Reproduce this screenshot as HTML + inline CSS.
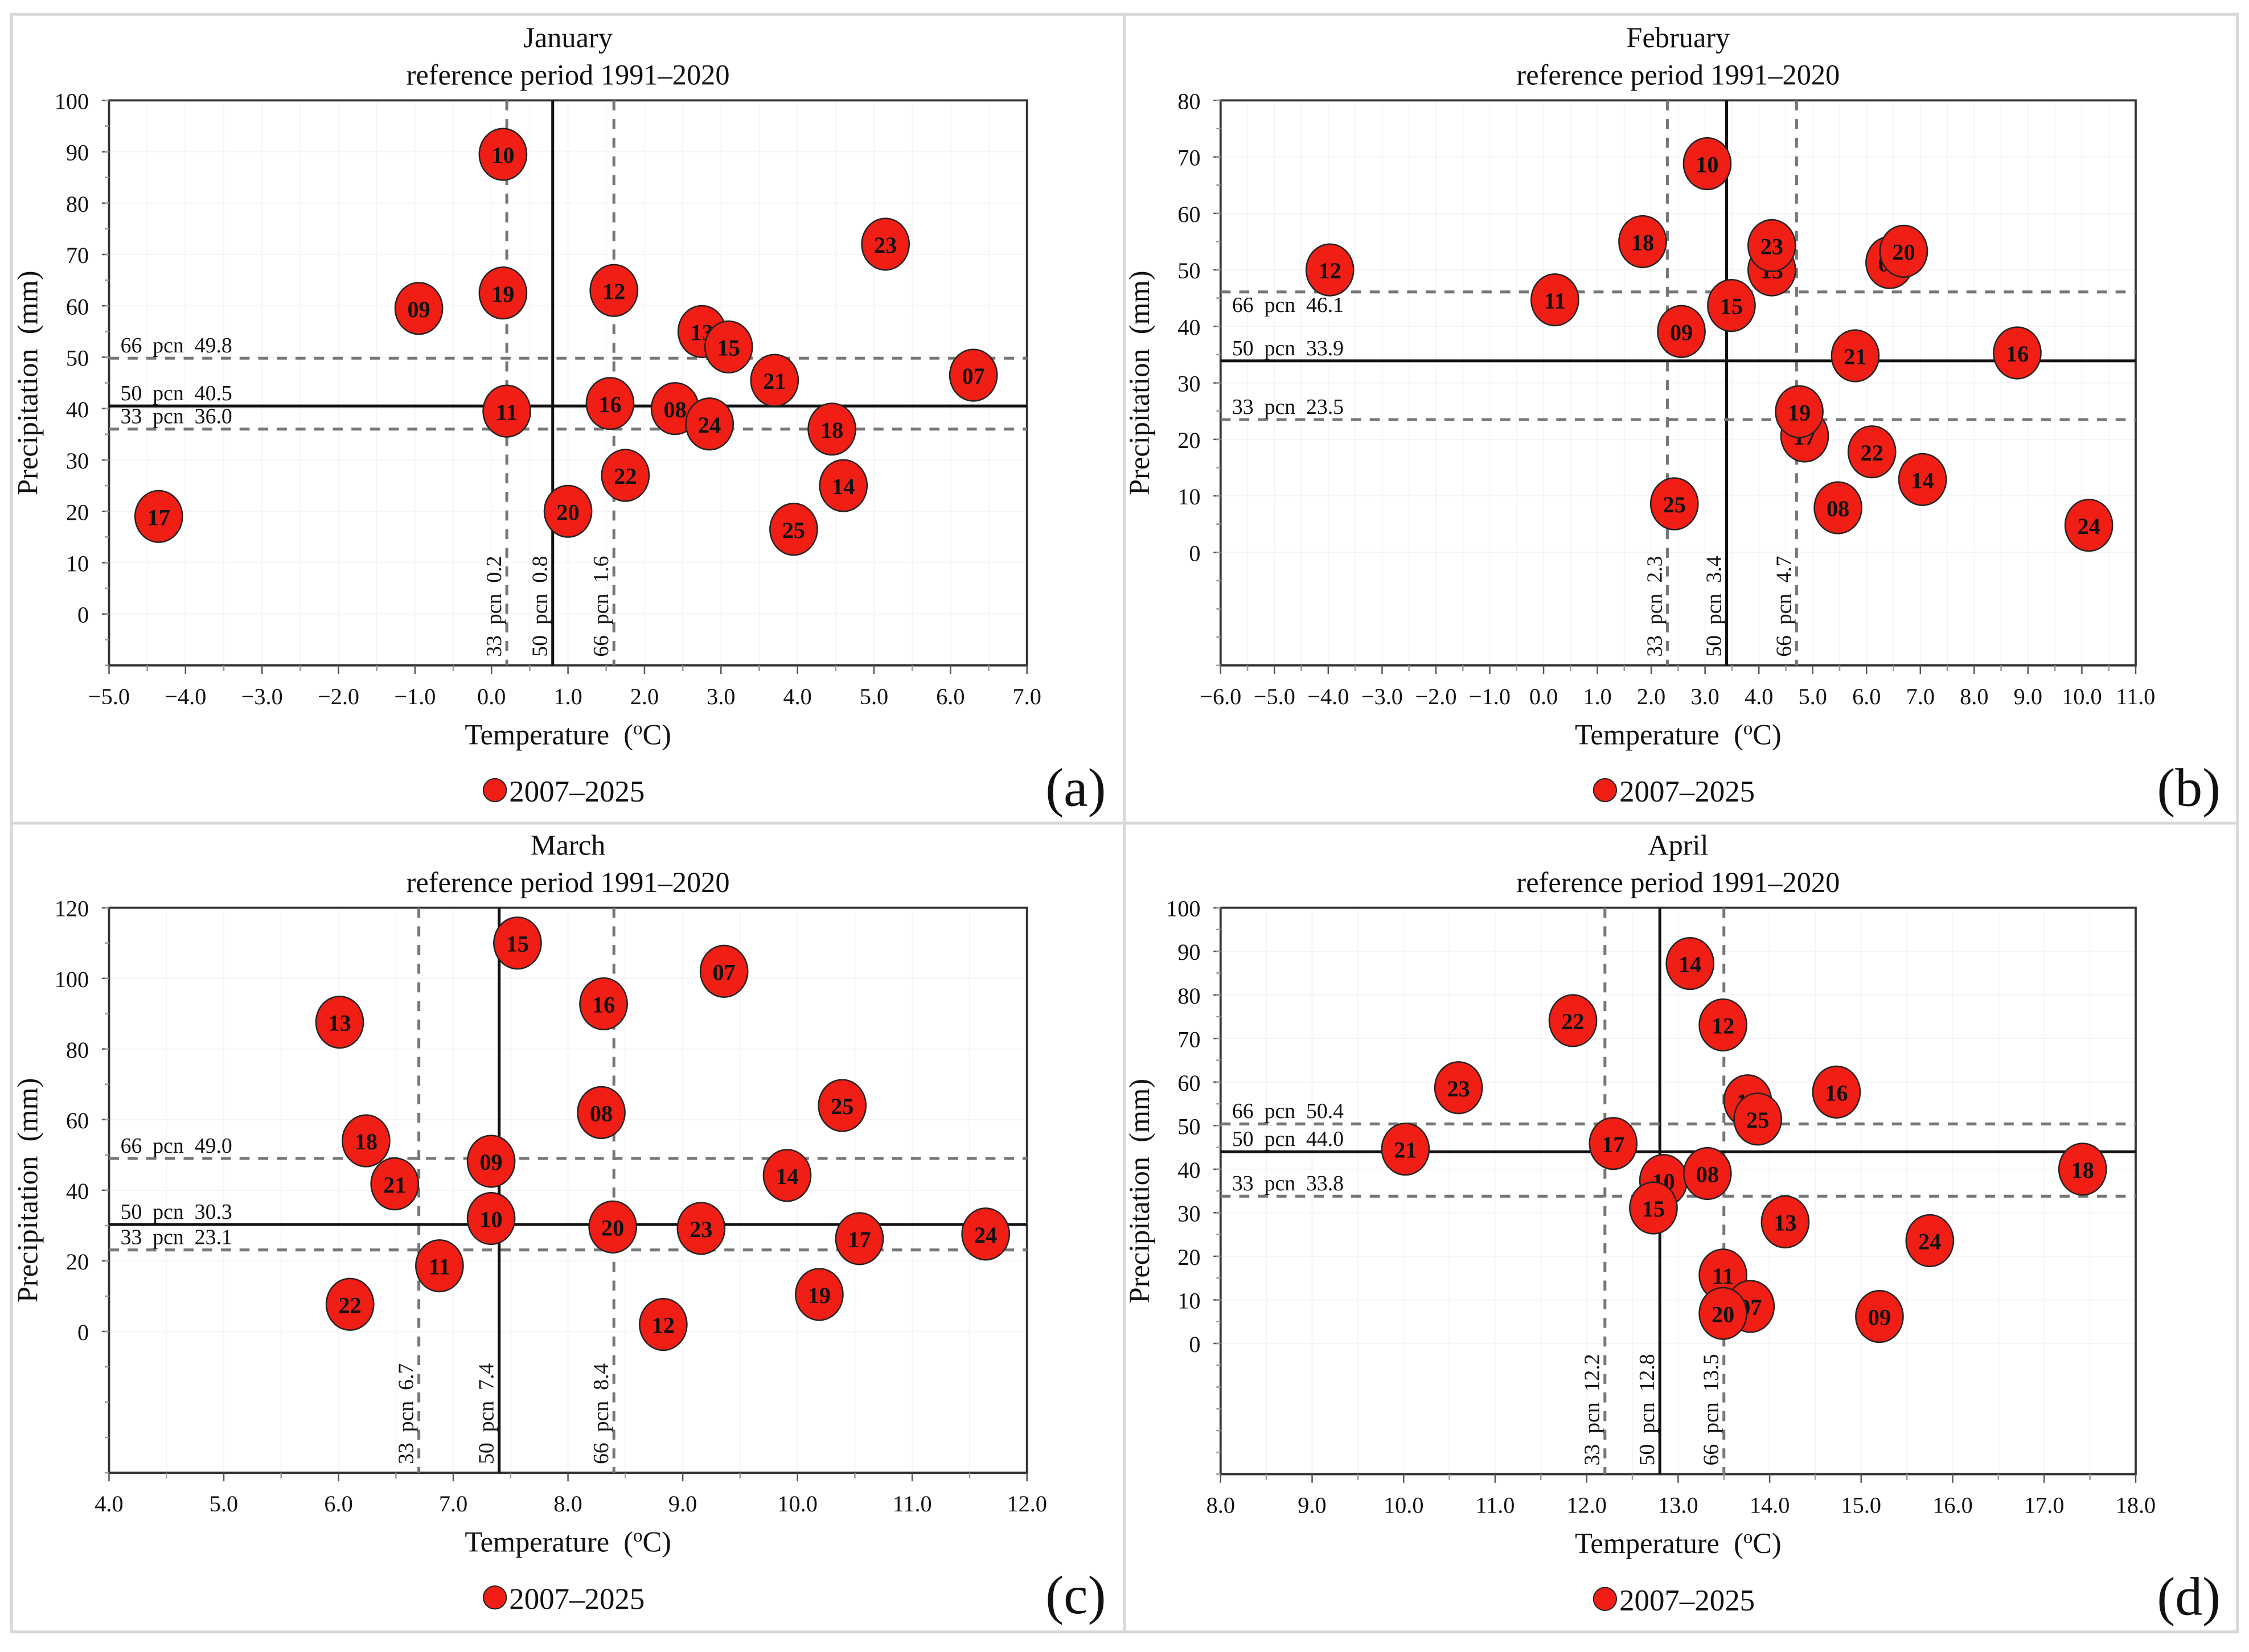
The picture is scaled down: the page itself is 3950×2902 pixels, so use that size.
<!DOCTYPE html>
<html><head><meta charset="utf-8">
<style>
html,body{margin:0;padding:0;background:#fff}
svg{display:block}
text{font-family:"Liberation Serif",serif;fill:#111;white-space:pre}
</style></head>
<body>
<svg id="fig" width="3950" height="2902" viewBox="0 0 1568 1152" xmlns="http://www.w3.org/2000/svg">
<rect x="8" y="10" width="1552" height="1128" fill="#fff" stroke="#d8d8d8" stroke-width="2"/>
<line x1="784" y1="10" x2="784" y2="1138" stroke="#d8d8d8" stroke-width="2"/>
<line x1="8" y1="574" x2="1560" y2="574" stroke="#d8d8d8" stroke-width="2"/>
</svg>
<script>
// ---- January ----
const janYears = ["10","19","09","12","23","13","15","21","07","11","16","08","24","18","22","20","14","25","17"];
const janTemp = [0.15,0.15,-0.95,1.6,5.15,2.75,3.1,3.7,6.3,0.2,1.55,2.4,2.85,4.45,1.75,1.0,4.6,3.95,-4.35];
const janPrec = [89.5,62.5,59.5,63,72,55,52,45.5,46.5,39.5,41,40,37,36,27,20,25,16.5,19];
const janTPcn = [0.2,0.8,1.6];
const janPPcn = [36.0,40.5,49.8];
const janXTicks = ["−5.0","−4.0","−3.0","−2.0","−1.0","0.0","1.0","2.0","3.0","4.0","5.0","6.0","7.0"];
const janYTicks = ["0","10","20","30","40","50","60","70","80","90","100"];
// ---- February ----
const febYears = ["12","11","18","10","13","23","07","20","15","09","21","16","17","19","22","14","25","08","24"];
const febTemp = [-3.97,0.21,1.84,3.04,4.24,4.24,6.43,6.69,3.49,2.56,5.79,8.8,4.85,4.75,6.1,7.04,2.43,5.47,10.13];
const febPrec = [50,44.7,55,68.8,50,54.3,51.3,53.3,43.7,39.1,34.8,35.3,20.6,24.9,17.8,12.9,8.6,7.9,4.8];
const febTPcn = [2.3,3.4,4.7];
const febPPcn = [23.5,33.9,46.1];
const febXTicks = ["−6.0","−5.0","−4.0","−3.0","−2.0","−1.0","0.0","1.0","2.0","3.0","4.0","5.0","6.0","7.0","8.0","9.0","10.0","11.0"];
const febYTicks = ["0","10","20","30","40","50","60","70","80"];
// ---- March ----
const marYears = ["15","07","13","16","08","25","18","09","21","14","10","20","23","17","24","11","19","22","12"];
const marTemp = [7.56,9.36,6.01,8.31,8.29,10.39,6.24,7.33,6.49,9.91,7.33,8.39,9.16,10.54,11.64,6.88,10.19,6.1,8.83];
const marPrec = [110,102,87.6,92.8,62,64,54,48.2,41.8,44.2,32,29.6,29.2,26.3,27.6,18.6,10.5,7.7,2];
const marTPcn = [6.7,7.4,8.4];
const marPPcn = [23.1,30.3,49.0];
const marXTicks = ["4.0","5.0","6.0","7.0","8.0","9.0","10.0","11.0","12.0"];
const marYTicks = ["0","20","40","60","80","100","120"];
// ---- April ----
const aprYears = ["14","22","12","23","16","19","25","21","17","18","10","08","15","13","24","11","07","20","09"];
const aprTemp = [13.13,11.85,13.49,10.6,14.73,13.76,13.87,10.02,12.29,17.42,12.84,13.32,12.73,14.17,15.75,13.49,13.79,13.49,15.2];
const aprPrec = [87.2,74.1,73.1,58.7,57.7,55.7,51.5,44.6,45.9,40,37.4,39,31.1,27.9,23.6,15.7,8.5,6.9,6.2];
const aprTPcn = [12.2,12.8,13.5];
const aprPPcn = [33.8,44.0,50.4];
const aprXTicks = ["8.0","9.0","10.0","11.0","12.0","13.0","14.0","15.0","16.0","17.0","18.0"];
const aprYTicks = ["0","10","20","30","40","50","60","70","80","90","100"];

const NS="http://www.w3.org/2000/svg";
const svg=document.getElementById('fig');
function mk(tag,attrs,parent,txt){const e=document.createElementNS(NS,tag);for(const k in attrs)e.setAttribute(k,attrs[k]);if(txt!==undefined)e.textContent=txt;(parent||svg).appendChild(e);return e;}

function panel(cfg){
  const g=mk('g',{});
  
  
  const {L,R,T,B,xmin,xmax,ymin,ymax}=cfg;
  const sx=v=>L+(v-xmin)/(xmax-xmin)*(R-L);
  const sy=v=>B-(v-ymin)/(ymax-ymin)*(B-T);
  for(let v=xmin;v<=xmax+1e-9;v+=0.5){const l=mk('line',{x1:sx(v),x2:sx(v),y1:T,y2:B,stroke:'#f4f4f4','stroke-width':0.7},g);
    
    }
  for(let v=0;v<=ymax+1e-9;v+=cfg.ystep){const l=mk('line',{x1:L,x2:R,y1:sy(v),y2:sy(v),stroke:'#f4f4f4','stroke-width':0.7},g);
    
    }
  const fr=mk('rect',{x:L,y:T,width:R-L,height:B-T,fill:'none',stroke:'#333','stroke-width':1.5},g);
  
  
  cfg.xticks.forEach((lab,i)=>{const v=xmin+i;const x=sx(v);
    mk('line',{x1:x,x2:x,y1:B,y2:B+6,stroke:'#555','stroke-width':1},g);
    if(v+0.5<xmax) mk('line',{x1:sx(v+0.5),x2:sx(v+0.5),y1:B,y2:B+4,stroke:'#999','stroke-width':1},g);
    const t=mk('text',{x:x,y:B+27,'text-anchor':'middle','font-size':16},g,lab);
    
    });
  cfg.yticks.forEach((lab,i)=>{const v=i*cfg.ystep;const y=sy(v);
    mk('line',{x1:L-5,x2:L,y1:y,y2:y,stroke:'#555','stroke-width':1},g);
    const t=mk('text',{x:L-14,y:y+6,'text-anchor':'end','font-size':16},g,lab);
    
    });
  for(let v=ymin;v<=ymax;v+=cfg.ystep/2){mk('line',{x1:L-3,x2:L,y1:sy(v),y2:sy(v),stroke:'#999','stroke-width':1},g);}
  const styles=[{d:'7,6',c:'#777'},{d:'',c:'#111'},{d:'7,6',c:'#777'}];
  const pn=['33','50','66'];
  cfg.tp.forEach((v,i)=>{const x=sx(v);
    const l=mk('line',{x1:x,x2:x,y1:T,y2:B,stroke:styles[i].c,'stroke-width':2,'stroke-dasharray':styles[i].d},g);
    
    
    const t=mk('text',{x:0,y:0,'font-size':15,transform:`translate(${x-4},${B-6}) rotate(-90)`},g,pn[i]+'  pcn  '+v.toFixed(1));
    
    });
  cfg.pp.forEach((v,i)=>{const y=sy(v);
    const l=mk('line',{x1:L,x2:R,y1:y,y2:y,stroke:styles[i].c,'stroke-width':2,'stroke-dasharray':styles[i].d},g);
    
    
    const below=cfg.below&&cfg.below[i];
    const t=mk('text',{x:L+8,y:below?y+14:y-4,'font-size':15},g,pn[i]+'  pcn  '+v.toFixed(1));
    
    });
  cfg.years.forEach((yr,i)=>{const x=sx(cfg.temp[i]),y=sy(cfg.prec[i]);
    const pg=mk('g',{},g);
    
    
    mk('ellipse',{cx:x,cy:y,rx:16.5,ry:18,fill:'#f01e14',stroke:'#222','stroke-width':1},pg);
    mk('text',{x:x,y:y+6,'text-anchor':'middle','font-size':16,'font-weight':'bold'},pg,yr);});
  const cx=(L+R)/2;
  const t1=mk('text',{x:cx,y:T-37,'text-anchor':'middle','font-size':20},g,cfg.month);
  
  
  const t2=mk('text',{x:cx,y:T-11,'text-anchor':'middle','font-size':20},g,'reference period 1991–2020');
  
  
  const xt=mk('text',{x:cx,y:B+55,'text-anchor':'middle','font-size':20},g);
  
  
  xt.innerHTML='Temperature  (<tspan font-size="13" dy="-7">o</tspan><tspan dy="7">C)</tspan>';
  const yt=mk('text',{x:0,y:0,'text-anchor':'middle','font-size':20,transform:`translate(${L-50},${(T+B)/2}) rotate(-90)`},g,'Precipitation  (mm)');
  
  
  const lg=mk('g',{},g);
  
  
  mk('circle',{cx:cx-51,cy:B+87,r:8,fill:'#f01e14',stroke:'#222','stroke-width':0.8},lg);
  mk('text',{x:cx-41,y:B+95,'font-size':21},lg,'2007–2025');
  const pl=mk('text',{x:cfg.lx,y:B+98,'text-anchor':'middle','font-size':38},g,cfg.letter);
  
  
}
panel({id:'january',month:'January',letter:'(a)',lx:750,L:76,R:716,T:70,B:464,xmin:-5,xmax:7,ymin:-10,ymax:100,ystep:10,
  xticks:janXTicks,yticks:janYTicks,years:janYears,temp:janTemp,prec:janPrec,tp:janTPcn,pp:janPPcn});
panel({id:'february',month:'February',letter:'(b)',lx:1526,L:851,R:1489,T:70,B:464,xmin:-6,xmax:11,ymin:-20,ymax:80,ystep:10,below:[false,false,true],
  xticks:febXTicks,yticks:febYTicks,years:febYears,temp:febTemp,prec:febPrec,tp:febTPcn,pp:febPPcn});
panel({id:'march',month:'March',letter:'(c)',lx:750,L:76,R:716,T:633,B:1027,xmin:4,xmax:12,ymin:-40,ymax:120,ystep:20,
  xticks:marXTicks,yticks:marYTicks,years:marYears,temp:marTemp,prec:marPrec,tp:marTPcn,pp:marPPcn});
panel({id:'april',month:'April',letter:'(d)',lx:1526,L:851,R:1489,T:633,B:1028,xmin:8,xmax:18,ymin:-30,ymax:100,ystep:10,
  xticks:aprXTicks,yticks:aprYTicks,years:aprYears,temp:aprTemp,prec:aprPrec,tp:aprTPcn,pp:aprPPcn});
</script>
</body></html>
